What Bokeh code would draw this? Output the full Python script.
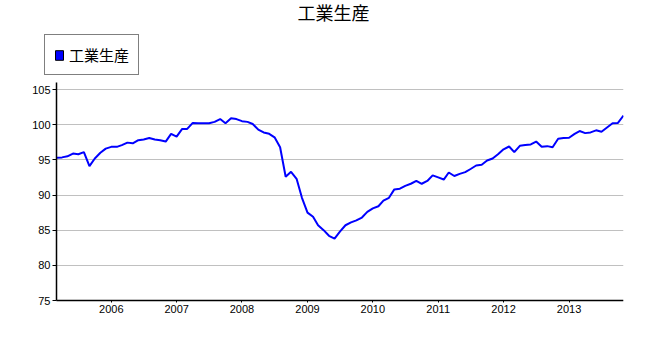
import pandas as pd
from bokeh.plotting import figure
from bokeh.models import (Legend, LegendItem, FixedTicker, DatetimeTickFormatter,
                          ColumnDataSource, Range1d, BoxAnnotation, Label)
from bokeh.embed import file_html
from bokeh.resources import INLINE

# ---- data ----
title_text = "工業生産"
series_name = "工業生産"
start_month = "2005-03"
end_month = "2013-11"
values = [
    95.3, 95.35, 95.5, 95.9, 95.8, 96.1, 94.1, 95.2, 96.0, 96.6,
    96.85, 96.85, 97.1, 97.45, 97.35, 97.8, 97.9, 98.1, 97.9, 97.8,
    97.6, 98.7, 98.3, 99.4, 99.4, 100.25, 100.2, 100.2, 100.2, 100.4,
    100.8, 100.2, 100.9, 100.8, 100.5, 100.4, 100.1, 99.3, 98.9, 98.7,
    98.2, 96.8, 92.6, 93.3, 92.3, 89.6, 87.5, 86.9, 85.7, 85.0,
    84.2, 83.8, 84.8, 85.7, 86.1, 86.4, 86.8, 87.6, 88.1, 88.4,
    89.2, 89.6, 90.8, 90.9, 91.3, 91.6, 92.0, 91.6, 92.0, 92.8,
    92.5, 92.2, 93.2, 92.7, 93.0, 93.25, 93.7, 94.2, 94.3, 94.9,
    95.2, 95.8, 96.5, 96.9, 96.1, 97.0, 97.1, 97.2, 97.6, 96.85,
    96.95, 96.8, 98.0, 98.1, 98.15, 98.7, 99.1, 98.8, 98.9, 99.2,
    99.0, 99.6, 100.2, 100.25, 101.3,
]
x_tick_years = [2006, 2007, 2008, 2009, 2010, 2011, 2012, 2013]
y_ticks = [75, 80, 85, 90, 95, 100, 105]
y_axis_min, y_axis_max = 75, 106

# ---- layout (pixels) ----
W, H = 629, 338
frame_left, axis_left, frame_right = 30, 56, 623
frame_top, axis_top_px, axis_bottom_px, frame_bottom = 0, 82, 300, 316

dates = pd.date_range(start_month, end_month, freq="MS")
source = ColumnDataSource(data=dict(date=dates, value=values[:len(dates)]))

t0 = dates[0].value / 1e6
t1 = dates[-1].value / 1e6
# the frame reaches left of / above / below the axes so that the legend, title
# and axis labels (drawn inside it) are not clipped; axes are pinned in place
span = (t1 - t0) * (frame_right - frame_left) / (frame_right - axis_left)
x_start = t1 - span
px_per_unit = (axis_bottom_px - axis_top_px) / (y_axis_max - y_axis_min)
y_top = y_axis_min + (axis_bottom_px - frame_top) / px_per_unit
y_bottom = y_axis_min - (frame_bottom - axis_bottom_px) / px_per_unit

p = figure(width=W, height=H, output_backend="svg", toolbar_location=None,
           x_axis_type="datetime",
           x_range=Range1d(x_start, t1),
           y_range=Range1d(y_bottom, y_top),
           min_border_left=frame_left, min_border_right=W - frame_right,
           min_border_top=frame_top, min_border_bottom=H - frame_bottom)

# zero-size boxes under the line: only used to give the legend its square swatch
sw = p.rect("date", "value", width=0, height=0, source=source,
            fill_color="#0000ff", line_color="black", line_width=1)
p.line("date", "value", source=source, line_color="#0000ff", line_width=2)

legend = Legend(items=[LegendItem(label=series_name, renderers=[sw])],
                location=(44 - frame_left, frame_bottom - 75), orientation="vertical",
                border_line_color="black", border_line_width=1,
                background_fill_alpha=1,
                label_text_font="Noto Sans CJK JP", label_text_font_size="15px",
                label_text_color="black",
                glyph_width=10, glyph_height=12, padding=9, spacing=0,
                label_standoff=5, margin=0)
p.add_layout(legend, "center")

# title
p.add_layout(Label(x=333 - frame_left, y=frame_bottom - 11, x_units="screen", y_units="screen",
                   text=title_text, text_align="center", text_baseline="middle",
                   text_font="Noto Sans CJK JP", text_font_size="18px", text_color="black"))

# axes
p.xaxis.ticker = FixedTicker(ticks=[pd.Timestamp(f"{y}-01-01").value / 1e6 for y in x_tick_years])
p.xaxis.formatter = DatetimeTickFormatter(years="%Y", months="%Y", days="%Y")
p.xaxis.bounds = (t0, t1)
p.xaxis.fixed_location = y_axis_min
p.yaxis.ticker = FixedTicker(ticks=y_ticks)
p.yaxis.bounds = (y_axis_min, y_axis_max)
p.yaxis.fixed_location = t0
for ax in (p.xaxis, p.yaxis):
    ax.axis_line_color = "black"
    ax.axis_line_width = 1.5
    ax.major_tick_line_color = "black"
    ax.minor_tick_line_color = None
    ax.major_label_text_font = "Liberation Sans"
    ax.major_label_text_font_size = "11px"
    ax.major_label_text_color = "black"
    ax.major_tick_in = 0
    ax.major_label_standoff = 2
p.yaxis.major_tick_out = 4
p.xaxis.major_tick_out = 2

p.xgrid.grid_line_color = None
p.ygrid.grid_line_color = "#c0c0c0"
p.ygrid.grid_line_width = 1
if "cross_bounds" in p.ygrid[0].properties():
    p.ygrid.cross_bounds = (t0, t1)
else:
    p.add_layout(BoxAnnotation(right=t0, fill_color="white", fill_alpha=1,
                               line_color=None, level="underlay"))
p.outline_line_color = None
p.background_fill_color = "white"
p.border_fill_color = "white"

open("out.html", "w").write(file_html(p, INLINE))
